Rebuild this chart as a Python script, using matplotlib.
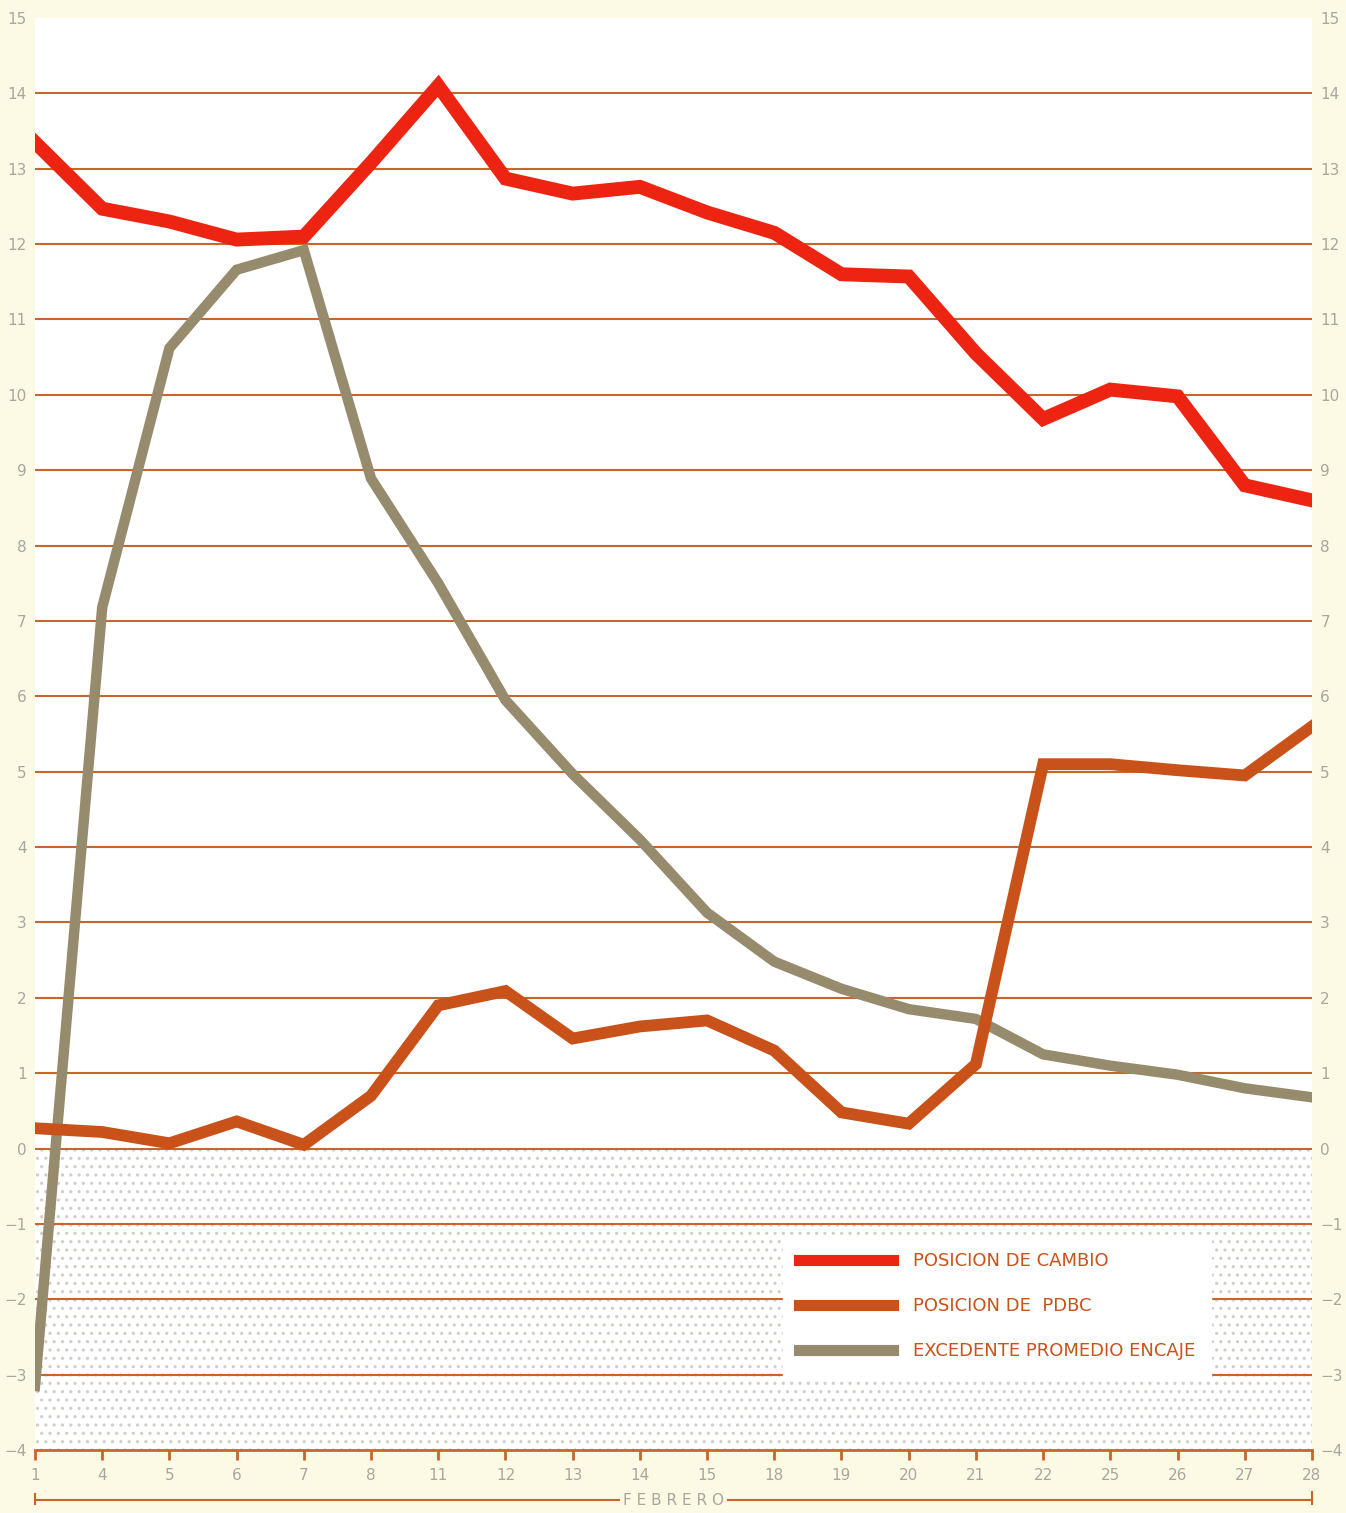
import matplotlib.pyplot as plt
from matplotlib.lines import Line2D
import matplotlib.transforms as mtransforms

# data (febrero)
days = ["1", "4", "5", "6", "7", "8", "11", "12", "13", "14",
        "15", "18", "19", "20", "21", "22", "25", "26", "27", "28"]
cambio = [13.35, 12.47, 12.30, 12.06, 12.10, 13.08, 14.10, 12.87, 12.67, 12.76,
          12.42, 12.15, 11.60, 11.57, 10.55, 9.68, 10.07, 9.98, 8.80, 8.60]
pdbc = [0.27, 0.22, 0.07, 0.36, 0.05, 0.70, 1.90, 2.09, 1.46, 1.62,
        1.70, 1.30, 0.48, 0.33, 1.12, 5.10, 5.10, 5.02, 4.95, 5.60]
encaje = [-3.15, 7.18, 10.62, 11.66, 11.92, 8.89, 7.50, 5.95, 4.97, 4.10,
          3.13, 2.48, 2.12, 1.85, 1.72, 1.25, 1.10, 0.98, 0.80, 0.68]
labels = ["POSICION DE CAMBIO", "POSICION DE  PDBC", "EXCEDENTE PROMEDIO ENCAJE"]
yticks = list(range(-4, 16))

RED = "#ee2412"
ORANGE = "#c9521b"
GREY = "#968b6c"
GRID = "#c8652a"
TXT = "#aaa69e"
BG = "#fcf9e4"

plt.rcParams["hatch.linewidth"] = 1.1
fig = plt.figure(figsize=(13.46, 15.13), dpi=100, facecolor=BG)
ax = fig.add_axes([0.026, 0.0416, 0.9487, 0.9465])
ax.set_facecolor("white")

x = list(range(len(days)))
ax.set_xlim(0, len(days) - 1)
ax.set_ylim(-4, 15)

# stippled negative zone
ax.fill_between([0, len(days) - 1], -4, 0, facecolor="white",
                edgecolor="#d2cdc6", hatch="..", linewidth=0, zorder=0)

# horizontal rules
for v in yticks[1:-1]:
    ax.axhline(v, color=GRID, lw=1.5, zorder=1)

ax.plot(x, encaje, color=GREY, lw=7.5, solid_joinstyle="miter", zorder=3)
ax.plot(x, pdbc, color=ORANGE, lw=8.5, solid_joinstyle="miter", zorder=4)
ax.plot(x, cambio, color=RED, lw=10, solid_joinstyle="miter", zorder=5)

for s in ["top", "left", "right"]:
    ax.spines[s].set_visible(False)
ax.spines["bottom"].set_color(GRID)
ax.spines["bottom"].set_linewidth(2)

ax.set_xticks(x)
ax.set_xticklabels(days)
ax.tick_params(axis="x", direction="out", length=7, width=2, color=GRID,
               labelcolor=TXT, labelsize=11, pad=6)
ax.set_yticks(yticks)
ax.set_yticklabels([str(v).replace("-", "\u2212") for v in yticks])
ax.tick_params(axis="y", length=0, labelcolor=TXT, labelsize=11, pad=6,
               labelleft=True, labelright=True)

# legend
handles = [Line2D([], [], color=c, lw=8) for c in (RED, ORANGE, GREY)]
leg = ax.legend(handles, labels, loc="lower left", bbox_to_anchor=(0.586, 0.052),
                frameon=True, fancybox=False, framealpha=1, edgecolor="white",
                facecolor="white", fontsize=13, labelcolor=ORANGE,
                handlelength=5.2, handletextpad=1.15, labelspacing=1.5,
                borderpad=0.85, borderaxespad=0)
leg.set_zorder(6)

# "FEBRERO" bracket under the axis
trans = mtransforms.blended_transform_factory(ax.transData, ax.transAxes)
yb = -0.035
ax.plot([0, len(days) - 1], [yb, yb], color=GRID, lw=1.5, transform=trans, clip_on=False)
ax.plot([0, 0], [yb - 0.003, yb + 0.004], color=GRID, lw=1.5, transform=trans, clip_on=False)
ax.plot([len(days) - 1] * 2, [yb - 0.003, yb + 0.006], color=GRID, lw=1.5,
        transform=trans, clip_on=False)
ax.text((len(days) - 1) / 2, yb, "F E B R E R O", transform=trans, ha="center",
        va="center", fontsize=11, color=TXT,
        bbox=dict(facecolor=BG, edgecolor="none", pad=2))

fig.savefig("out.png", dpi=100, facecolor=BG)
